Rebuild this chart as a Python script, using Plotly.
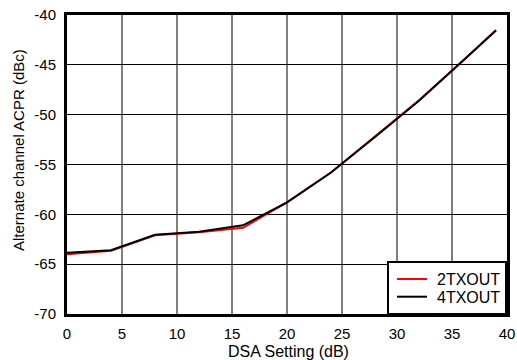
import plotly.graph_objects as go

dsa = [0, 4, 8, 12, 16, 20, 24, 28, 32, 36, 39]
acpr_2tx = [-64.0, -63.65, -62.1, -61.8, -61.35, -58.8, -55.8, -52.2, -48.55, -44.6, -41.5]
acpr_4tx = [-63.85, -63.6, -62.05, -61.75, -61.1, -58.8, -55.8, -52.25, -48.6, -44.6, -41.55]
series_names = ["2TXOUT", "4TXOUT"]
series_colors = ["#ff0000", "#000000"]
x_ticks = [0, 5, 10, 15, 20, 25, 30, 35, 40]
x_ticklabels = ["0", "5", "10", "15", "20", "25", "30", "35", "40"]
y_ticks = [-70, -65, -60, -55, -50, -45, -40]
y_ticklabels = ["-70", "-65", "-60", "-55", "-50", "-45", "-40"]

font = "Liberation Sans, Arial, sans-serif"
W, H = 517, 360
L, R, T, B = 67, 10, 15, 46
pw, ph = W - L - R, H - T - B


def px2paper(px, py):
    return (px - L) / pw, (H - B - py) / ph


fig = go.Figure()
for name, ys, col in zip(series_names, [acpr_2tx, acpr_4tx], series_colors):
    fig.add_trace(go.Scatter(x=dsa, y=ys, mode="lines", name=name,
                             line=dict(color=col, width=2), showlegend=False))

shapes = []
annotations = []

# legend box
x0, y0 = px2paper(388, 314)
x1, y1 = px2paper(506, 262)
shapes.append(dict(type="rect", xref="paper", yref="paper", x0=x0, y0=y0, x1=x1, y1=y1,
                   fillcolor="white", line=dict(color="black", width=2), layer="above"))
for i, (name, col) in enumerate(zip(series_names, series_colors)):
    yy = 279 + i * 17.7
    lx0, ly = px2paper(397, yy)
    lx1, _ = px2paper(427, yy)
    shapes.append(dict(type="line", xref="paper", yref="paper", x0=lx0, y0=ly, x1=lx1, y1=ly,
                       line=dict(color=col, width=2), layer="above"))
    tx, ty = px2paper(435, yy + 0.5)
    annotations.append(dict(text=name, x=tx, y=ty, xref="paper", yref="paper",
                            showarrow=False, font=dict(size=16), xanchor="left",
                            yanchor="middle"))

# axis titles
ax, ay = px2paper(288, 351.5)
annotations.append(dict(text="DSA Setting (dB)", x=ax, y=ay, xref="paper", yref="paper",
                        showarrow=False, font=dict(size=16), xanchor="center",
                        yanchor="middle"))
ax, ay = px2paper(18, 150)
annotations.append(dict(text="Alternate channel ACPR (dBc)", x=ax, y=ay, xref="paper",
                        yref="paper", showarrow=False, font=dict(size=15), textangle=-90,
                        xanchor="center", yanchor="middle"))

fig.update_layout(
    width=W, height=H,
    margin=dict(l=L, r=R, t=T, b=B, autoexpand=False),
    paper_bgcolor="white", plot_bgcolor="white",
    font=dict(family=font, size=15, color="black"),
    showlegend=False,
    xaxis=dict(range=[0, 40], tickvals=x_ticks, ticktext=x_ticklabels, ticks="",
               showgrid=True, gridcolor="#808080", gridwidth=2, showline=True,
               linecolor="black", linewidth=3, mirror=True, zeroline=False,
               ticklabelstandoff=4, tickfont=dict(size=15)),
    yaxis=dict(range=[-70, -40], tickvals=y_ticks, ticktext=y_ticklabels, ticks="",
               showgrid=True, gridcolor="#000000", gridwidth=1, showline=True,
               linecolor="black", linewidth=3, mirror=True, zeroline=False,
               ticklabelstandoff=5, tickfont=dict(size=15)),
    shapes=shapes,
    annotations=annotations,
)

fig.write_html("out.html", config={"displayModeBar": False},
               post_script="document.body.style.margin='0';")
